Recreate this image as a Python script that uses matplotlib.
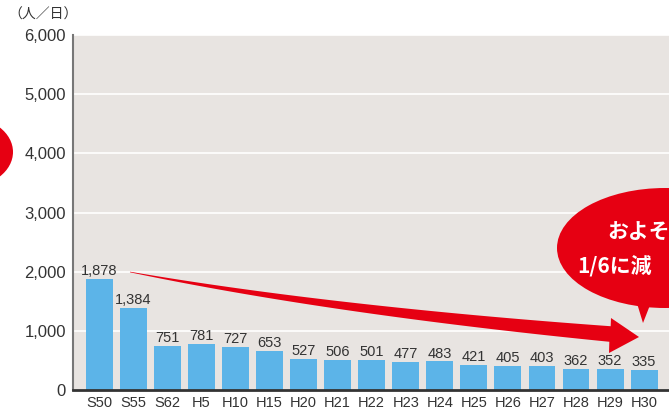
import numpy as np
import matplotlib.pyplot as plt
from matplotlib.patches import Ellipse, Polygon

years = ["S50", "S55", "S62", "H5", "H10", "H15", "H20", "H21", "H22", "H23",
         "H24", "H25", "H26", "H27", "H28", "H29", "H30"]
users = [1878, 1384, 751, 781, 727, 653, 527, 506, 501, 477,
         483, 421, 405, 403, 362, 352, 335]
yticks = [0, 1000, 2000, 3000, 4000, 5000, 6000]

blue = "#5cb4e8"
red = "#e60012"
txt = "#333333"
sans = "Liberation Sans"
jp = ["Noto Sans CJK JP", "DejaVu Sans"]

fig = plt.figure(figsize=(6.69, 4.12), dpi=100)
ax = fig.add_axes([73 / 669, 22 / 412, 1 - 73 / 669, 355 / 412])
ax.set_facecolor("#e8e4e1")

x = np.arange(len(years))
ax.bar(x, users, width=0.79, color=blue, zorder=2)
for xi, v in zip(x, users):
    ax.text(xi, v + 15, f"{v:,}", ha="center", va="bottom", fontsize=10.5,
            family=sans, color=txt, zorder=3)

ax.set_xlim(-0.77, 16.73)
ax.set_ylim(0, 6000)
ax.set_yticks(yticks)
ax.set_yticklabels([f"{t:,}" for t in yticks], family=sans,
                   fontsize=12, color=txt)
ax.set_xticks(x)
ax.set_xticklabels(years, family=sans, fontsize=10.5, color=txt)
ax.tick_params(axis="both", length=0)
ax.tick_params(axis="y", pad=5)
ax.tick_params(axis="x", pad=4)
ax.grid(axis="y", color="white", lw=1.2, zorder=1)
ax.set_axisbelow(True)
for s in ["top", "right"]:
    ax.spines[s].set_visible(False)
ax.spines["left"].set_color("#777777")
ax.spines["left"].set_linewidth(1.5)
ax.spines["bottom"].set_color("#333333")
ax.spines["bottom"].set_linewidth(2)

fig.text(8 / 669, 1 - 15 / 412, "（人／日）", family=jp,
         fontsize=10, color=txt, va="center", ha="left")

# overlay in pixel coords for the decorations
ov = fig.add_axes([0, 0, 1, 1])
ov.set_xlim(0, 669)
ov.set_ylim(412, 0)
ov.axis("off")
ov.patch.set_alpha(0)

# tapered curved arrow
p0 = np.array([130, 272])
p1 = np.array([330, 310])
p2 = np.array([610, 334])
t = np.linspace(0, 1, 60)
curve = ((1 - t)[:, None] ** 2) * p0 + (2 * (1 - t) * t)[:, None] * p1 + (t[:, None] ** 2) * p2
d = 2 * (1 - t)[:, None] * (p1 - p0) + 2 * t[:, None] * (p2 - p1)
nrm = np.stack([-d[:, 1], d[:, 0]], axis=1)
nrm /= np.linalg.norm(nrm, axis=1)[:, None]
w = 0.3 + 7.5 * t
upper = curve + nrm * w[:, None]
lower = curve - nrm * w[:, None]
pts = np.vstack([upper, [[609, 353], [639, 337], [611, 318]], lower[::-1]])
ov.add_patch(Polygon(pts, closed=True, color=red, lw=0, zorder=5))

# speech bubbles
ov.add_patch(Ellipse((665, 248), 216, 120, color=red, lw=0, zorder=5))
ov.add_patch(Polygon([[636, 300], [652, 300], [643, 323]], color=red, lw=0, zorder=5))
ov.text(607, 232, "およそ", color="white", fontsize=15, fontweight="bold",
        family=jp, va="center", ha="left", zorder=6)
ov.text(577, 266, "1/6に減", color="white", fontsize=15, fontweight="bold",
        family=jp, va="center", ha="left", zorder=6)
ov.add_patch(Ellipse((-33, 152), 92, 70, color=red, lw=0, zorder=5))

fig.savefig("out.png", dpi=100)
